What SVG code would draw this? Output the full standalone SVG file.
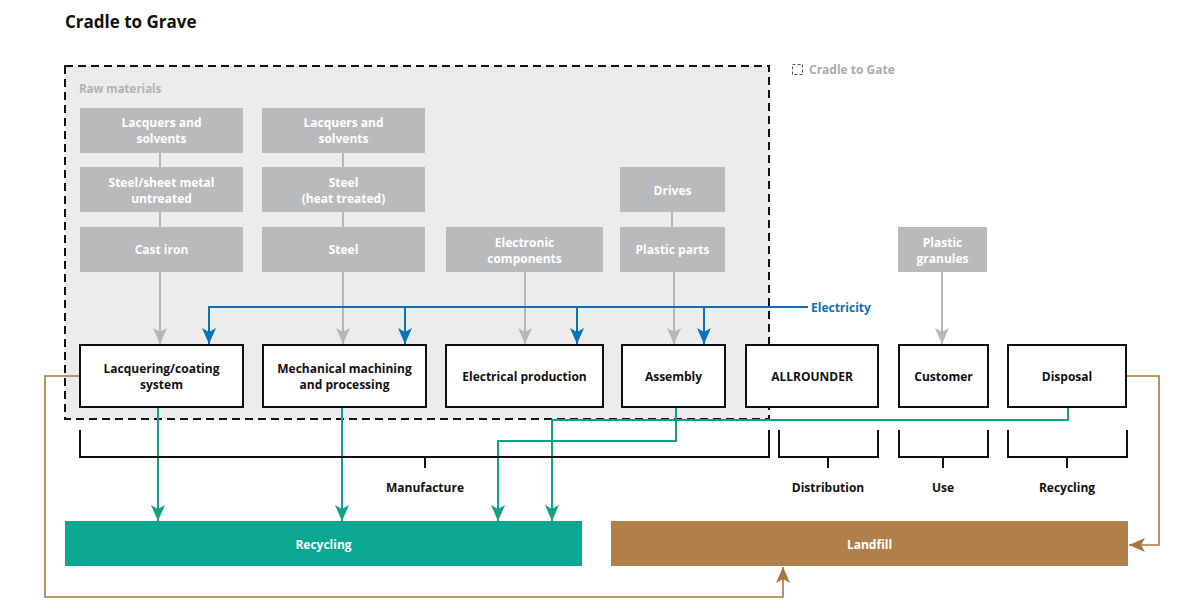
<svg xmlns="http://www.w3.org/2000/svg" width="1200" height="610" viewBox="0 0 1200 610">
<defs>
<style>
text{font-family:"Open Sans","Liberation Sans",sans-serif;font-weight:bold;font-size:12px;text-anchor:middle}
.raw rect{fill:#b9babc}
.raw text{fill:#ffffff}
.proc rect{fill:#ffffff;stroke:#111111;stroke-width:2}
.proc text{fill:#111111}
.gray{stroke:#b5b6b8;stroke-width:2;fill:none}
.blue{stroke:#0a72b5;stroke-width:2;fill:none}
.teal{stroke:#12a08b;stroke-width:2;fill:none}
.brown{stroke:#a8773f;stroke-width:1.6;fill:none}
.brk{stroke:#111111;stroke-width:2;fill:none}
.lbl{fill:#111111}
</style>
<marker id="ag" markerUnits="userSpaceOnUse" markerWidth="16" markerHeight="14" refX="16" refY="7" orient="auto"><path d="M0,0 L16,7 L0,14 L4,7 Z" fill="#b5b6b8"/></marker>
<marker id="ab" markerUnits="userSpaceOnUse" markerWidth="16" markerHeight="14" refX="16" refY="7" orient="auto"><path d="M0,0 L16,7 L0,14 L4,7 Z" fill="#0a72b5"/></marker>
<marker id="at" markerUnits="userSpaceOnUse" markerWidth="16" markerHeight="14" refX="16" refY="7" orient="auto"><path d="M0,0 L16,7 L0,14 L4,7 Z" fill="#12a08b"/></marker>
<marker id="ar" markerUnits="userSpaceOnUse" markerWidth="16" markerHeight="14" refX="16" refY="7" orient="auto"><path d="M0,0 L16,7 L0,14 L4,7 Z" fill="#a8773f"/></marker>
</defs>
<rect width="1200" height="610" fill="#ffffff"/>
<text x="65" y="28" style="font-size:17px;text-anchor:start;fill:#111">Cradle to Grave</text>

<g id="cradle-to-gate">
<rect x="65" y="66" width="704" height="353" fill="#ececec" stroke="#111" stroke-width="2" stroke-dasharray="8 5"/>
<text x="79" y="93" style="text-anchor:start;font-size:11.5px;fill:#b3b3b3">Raw materials</text>
</g>
<g id="legend">
<rect x="792.5" y="64.5" width="10" height="10" fill="none" stroke="#555" stroke-width="1" stroke-dasharray="3 2"/>
<text x="809" y="74" style="text-anchor:start;fill:#aaaaaa">Cradle to Gate</text>
</g>

<g id="connectors">
<path class="gray" d="M160,153 V167 M160,212 V227 M343,153 V167 M343,212 V227 M672,212 V227"/>
<path class="gray" d="M160,272 V344" marker-end="url(#ag)"/>
<path class="gray" d="M343,272 V344" marker-end="url(#ag)"/>
<path class="gray" d="M525,272 V344" marker-end="url(#ag)"/>
<path class="gray" d="M674,272 V344" marker-end="url(#ag)"/>
<path class="gray" d="M942,272 V344" marker-end="url(#ag)"/>
<path class="blue" d="M209,307 H808"/>
<path class="blue" d="M209,306 V344" marker-end="url(#ab)"/>
<path class="blue" d="M405,307 V344" marker-end="url(#ab)"/>
<path class="blue" d="M577,307 V344" marker-end="url(#ab)"/>
<path class="blue" d="M704,307 V344" marker-end="url(#ab)"/>
<path class="teal" d="M158,407 V521" marker-end="url(#at)"/>
<path class="teal" d="M342,407 V521" marker-end="url(#at)"/>
<path class="teal" d="M676,407 V441 H498 V521" marker-end="url(#at)"/>
<path class="teal" d="M1068,407 V420 H552 V521" marker-end="url(#at)"/>
<path class="brown" d="M80,376 H45 V597 H783 V567" marker-end="url(#ar)"/>
<path class="brown" d="M1126,376 H1159 V545 H1129" marker-end="url(#ar)"/>
</g>
<text x="811" y="311.5" style="text-anchor:start;fill:#0a72b5">Electricity</text>

<g id="raw-lacquers-1" class="raw"><rect x="80" y="108" width="163" height="45"/><text x="161.5" y="127">Lacquers and</text><text x="161.5" y="143">solvents</text></g>
<g id="raw-steel-sheet" class="raw"><rect x="80" y="167" width="163" height="45"/><text x="161.5" y="187">Steel/sheet metal</text><text x="161.5" y="203">untreated</text></g>
<g id="raw-cast-iron" class="raw"><rect x="80" y="227" width="163" height="45"/><text x="161.5" y="254">Cast iron</text></g>
<g id="raw-lacquers-2" class="raw"><rect x="262" y="108" width="163" height="45"/><text x="343.5" y="127">Lacquers and</text><text x="343.5" y="143">solvents</text></g>
<g id="raw-steel-heat" class="raw"><rect x="262" y="167" width="163" height="45"/><text x="343.5" y="187">Steel</text><text x="343.5" y="203">(heat treated)</text></g>
<g id="raw-steel" class="raw"><rect x="262" y="227" width="163" height="45"/><text x="343.5" y="254">Steel</text></g>
<g id="raw-electronic" class="raw"><rect x="446" y="227" width="157" height="45"/><text x="524.5" y="246.5">Electronic</text><text x="524.5" y="262.5">components</text></g>
<g id="raw-drives" class="raw"><rect x="620" y="167" width="105" height="45"/><text x="672.5" y="194.5">Drives</text></g>
<g id="raw-plastic-parts" class="raw"><rect x="620" y="227" width="105" height="45"/><text x="672.5" y="254">Plastic parts</text></g>
<g id="raw-plastic-granules" class="raw"><rect x="898" y="227" width="89" height="45"/><text x="942.5" y="246.5">Plastic</text><text x="942.5" y="262.5">granules</text></g>

<g id="lacquering" class="proc"><rect x="80" y="345" width="163" height="62"/><text x="161.5" y="372.5">Lacquering/coating</text><text x="161.5" y="388.5">system</text></g>
<g id="machining" class="proc"><rect x="263" y="345" width="163" height="62"/><text x="344.5" y="372.5">Mechanical machining</text><text x="344.5" y="388.5">and processing</text></g>
<g id="electrical" class="proc"><rect x="446" y="345" width="157" height="62"/><text x="524.5" y="380.5">Electrical production</text></g>
<g id="assembly" class="proc"><rect x="622" y="345" width="103" height="62"/><text x="673.5" y="380.5">Assembly</text></g>
<g id="allrounder" class="proc"><rect x="746" y="345" width="132" height="62"/><text x="812" y="380.5">ALLROUNDER</text></g>
<g id="customer" class="proc"><rect x="899" y="345" width="89" height="62"/><text x="943.5" y="380.5">Customer</text></g>
<g id="disposal" class="proc"><rect x="1008" y="345" width="118" height="62"/><text x="1067" y="380.5">Disposal</text></g>

<g id="phases">
<path class="brk" d="M80,430 V457 H769 V430 M425,457 V468"/>
<path class="brk" d="M779,430 V457 H878 V430 M828,457 V468"/>
<path class="brk" d="M899,430 V457 H988 V430 M943,457 V468"/>
<path class="brk" d="M1008,430 V457 H1127 V430 M1067,457 V468"/>
<text class="lbl" x="425" y="491.5">Manufacture</text>
<text class="lbl" x="828" y="491.5">Distribution</text>
<text class="lbl" x="943" y="491.5">Use</text>
<text class="lbl" x="1067" y="491.5">Recycling</text>
</g>

<g id="recycling"><rect x="65" y="521" width="517" height="45" fill="#0aa893"/><text x="323.5" y="548.5" fill="#ffffff">Recycling</text></g>
<g id="landfill"><rect x="611" y="521" width="517" height="45" fill="#b07f4a"/><text x="869.5" y="548.5" fill="#ffffff">Landfill</text></g>
</svg>
